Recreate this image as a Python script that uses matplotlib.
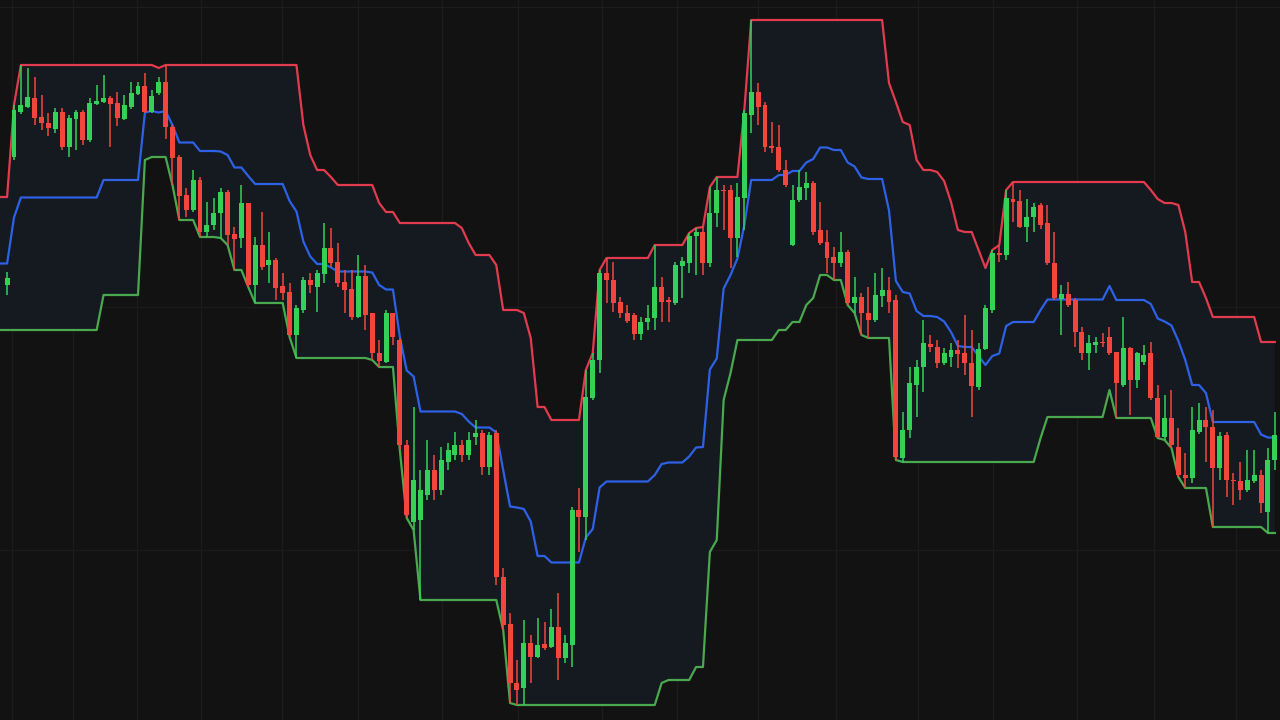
import numpy as np
import pandas as pd
import matplotlib
matplotlib.use("Agg")
import matplotlib.pyplot as plt

# ---------------- data (price units) ----------------
open_ = [435, 563, 608, 613, 622, 603, 597, 591, 608, 573,
         601, 608, 580, 616, 618, 622, 617, 601, 613, 626,
         634, 608, 627, 638, 593, 563, 525, 510, 540, 488,
         495, 507, 528, 486, 482, 517, 435, 475, 455, 460,
         434, 428, 385, 410, 440, 433, 446, 472, 458, 438,
         431, 403, 444, 407, 367, 358, 407, 380, 275, 198,
         200, 225, 250, 230, 258, 265, 275, 265, 283, 287,
         253, 287, 143, 96, 37, 32, 77, 63, 76, 73,
         93, 62, 75, 210, 203, 322, 360, 447, 440, 418,
         407, 405, 386, 398, 402, 433, 420, 417, 454, 457,
         484, 488, 457, 507, 530, 530, 482, 522, 605, 628,
         615, 574, 573, 550, 475, 520, 532, 537, 490, 478,
         463, 457, 468, 417, 423, 407, 400, 424, 430, 420,
         262, 290, 335, 353, 376, 373, 357, 363, 370, 367,
         357, 333, 371, 410, 467, 465, 521, 519, 493, 503,
         515, 497, 457, 421, 426, 420, 388, 367, 375, 378,
         383, 368, 335, 372, 340, 358, 367, 322, 283, 302,
         273, 245, 242, 288, 300, 293, 252, 285, 240, 239,
         230, 239, 245, 208, 260]
high = [448, 615, 655, 652, 643, 625, 607, 612, 612, 605,
        610, 610, 622, 635, 645, 624, 628, 625, 638, 638,
        647, 630, 643, 655, 595, 565, 532, 550, 543, 518,
        522, 532, 530, 493, 535, 517, 483, 508, 488, 462,
        447, 437, 415, 443, 447, 450, 497, 492, 477, 450,
        450, 465, 455, 407, 380, 410, 407, 382, 280, 313,
        250, 280, 265, 273, 277, 288, 280, 288, 300, 290,
        288, 290, 152, 107, 60, 100, 85, 102, 98, 111,
        127, 85, 213, 232, 350, 367, 450, 462, 458, 423,
        415, 407, 403, 415, 475, 443, 423, 458, 463, 487,
        492, 493, 533, 543, 535, 535, 537, 610, 700, 637,
        618, 598, 595, 560, 535, 550, 548, 539, 518, 490,
        473, 488, 470, 443, 427, 433, 447, 452, 443, 425,
        308, 353, 360, 400, 385, 380, 372, 377, 380, 405,
        390, 377, 415, 470, 475, 530, 538, 530, 521, 517,
        517, 515, 488, 435, 438, 422, 393, 385, 383, 387,
        393, 368, 403, 373, 368, 375, 378, 335, 325, 330,
        292, 267, 313, 317, 313, 310, 288, 288, 247, 258,
        270, 270, 250, 272, 308]
low = [425, 560, 606, 612, 595, 590, 584, 587, 570, 563,
       570, 575, 578, 615, 617, 573, 594, 600, 611, 625,
       607, 607, 625, 581, 535, 500, 503, 508, 483, 483,
       490, 482, 475, 450, 472, 433, 417, 450, 437, 420,
       420, 383, 362, 407, 427, 408, 437, 453, 433, 407,
       400, 402, 390, 360, 353, 357, 375, 270, 202, 190,
       120, 220, 220, 225, 250, 260, 258, 260, 275, 245,
       245, 135, 90, 17, 15, 15, 37, 62, 70, 72,
       40, 57, 53, 168, 180, 320, 347, 417, 408, 402,
       397, 380, 380, 390, 390, 398, 398, 415, 422, 447,
       445, 445, 453, 493, 490, 452, 463, 490, 587, 595,
       568, 567, 548, 533, 474, 518, 520, 485, 475, 447,
       440, 453, 415, 407, 385, 382, 398, 413, 407, 260,
       258, 282, 303, 328, 368, 352, 355, 353, 352, 345,
       303, 330, 370, 407, 458, 460, 498, 492, 478, 488,
       491, 455, 420, 385, 413, 373, 360, 350, 367, 373,
       365, 302, 333, 305, 332, 355, 320, 282, 280, 272,
       243, 232, 237, 286, 258, 193, 240, 223, 215, 220,
       228, 237, 207, 187, 250]
close = [442, 610, 615, 623, 602, 597, 592, 608, 573, 602,
         608, 580, 617, 619, 622, 616, 602, 615, 627, 634,
         608, 624, 638, 593, 562, 524, 510, 540, 488, 495,
         507, 528, 485, 481, 517, 435, 475, 453, 460, 432,
         427, 385, 412, 440, 435, 447, 472, 457, 437, 430,
         403, 444, 405, 367, 359, 407, 383, 275, 205, 240,
         230, 250, 230, 260, 270, 275, 265, 280, 287, 253,
         285, 143, 95, 37, 30, 77, 63, 75, 72, 93,
         62, 77, 210, 203, 323, 360, 447, 440, 417, 407,
         399, 386, 398, 402, 433, 418, 418, 455, 459, 484,
         488, 457, 507, 530, 529, 482, 523, 607, 628, 613,
         573, 572, 550, 535, 520, 533, 537, 488, 477, 462,
         457, 468, 417, 423, 407, 400, 425, 430, 418, 263,
         290, 337, 353, 377, 373, 357, 367, 370, 366, 357,
         334, 371, 412, 467, 465, 522, 518, 493, 503, 513,
         495, 457, 422, 426, 415, 388, 367, 377, 378, 377,
         367, 337, 372, 340, 367, 365, 322, 283, 302, 275,
         245, 242, 290, 300, 293, 252, 284, 240, 239, 230,
         240, 245, 217, 260, 285]

# earlier bars (before the visible window) that still feed the channel
pre_high = [523, 505, 498, 492, 488, 470]
pre_low = [390, 440, 450, 452, 448, 436]

period = 20
grid_x = [0.7, 9.6, 18.9, 28.1, 39.9, 50.9, 63.1, 74.1, 86.3, 97.2,
          109.0, 120.3, 132.2, 143.1, 155.3, 166.5, 178.4]
grid_y = [713, 170, 413]

# ---------------- channel ----------------
n = len(close)
all_high = pd.Series(pre_high + high)
all_low = pd.Series(pre_low + low)
upper = all_high.rolling(period, min_periods=1).max().values
lower = all_low.rolling(period, min_periods=1).min().values
mid = (upper + lower) / 2
xc = np.arange(-len(pre_high), n)

# ---------------- figure ----------------
BG = "#121212"
fig = plt.figure(figsize=(12.8, 7.2), dpi=100, facecolor=BG)
ax = fig.add_axes([0, 0, 1, 1])
ax.set_facecolor(BG)
ax.set_xlim(-1.03, 184.75)
ax.set_ylim(0, 720)
for s in ax.spines.values():
    s.set_visible(False)
ax.set_xticks([])
ax.set_yticks([])

for gx in grid_x:
    ax.axvline(gx, color="#1c1c1e", lw=1.0, zorder=0)
for gy in grid_y:
    ax.axhline(gy, color="#1c1c1e", lw=1.0, zorder=0)

ax.fill_between(xc, lower, upper, color="#151a21", lw=0, zorder=1)
ax.plot(xc, upper, color="#e23b4e", lw=1.6, zorder=2, solid_joinstyle="round")
ax.plot(xc, lower, color="#4aa84e", lw=1.6, zorder=2, solid_joinstyle="round")
ax.plot(xc, mid, color="#2d62e6", lw=1.6, zorder=2, solid_joinstyle="round")

UP = "#33d158"
DN = "#f2463d"
o = np.array(open_, float)
c = np.array(close, float)
h = np.array(high, float)
l = np.array(low, float)
x = np.arange(n)
cols = np.where(c >= o, UP, DN)
ax.vlines(x, l, h, colors=cols, lw=1.1, zorder=3)
body = np.abs(c - o)
body = np.maximum(body, 1.5)
bottom = np.minimum(o, c)
ax.bar(x, body, bottom=bottom, width=0.72, color=cols, lw=0, zorder=4)

fig.savefig("out.png", dpi=100, facecolor=BG)
